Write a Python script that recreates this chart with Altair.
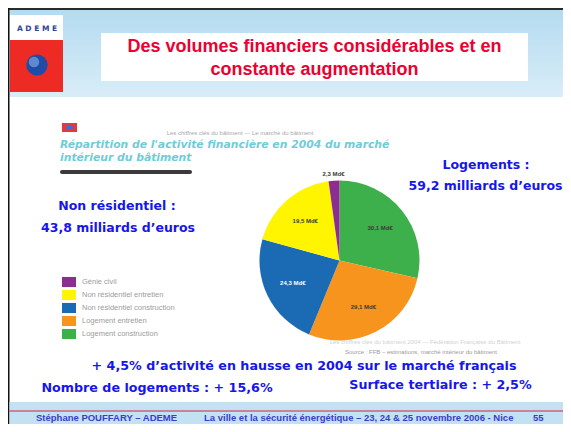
import altair as alt
import pandas as pd

# ---- data ----
categories = ["Logement construction", "Logement entretien", "Non résidentiel construction",
              "Non résidentiel entretien", "Génie civil"]
values = [30.1, 29.1, 24.3, 19.5, 2.3]
labels = ["30,1 Md€", "29,1 Md€", "24,3 Md€", "19,5 Md€", "2,3 Md€"]
legend_order = ["Génie civil", "Non résidentiel entretien", "Non résidentiel construction",
                "Logement entretien", "Logement construction"]
legend_colors = ["#8b2d91", "#fff500", "#1a6ab4", "#f7941d", "#3db04b"]

pie_df = pd.DataFrame({"cat": categories, "value": values, "label": labels,
                       "order": list(range(len(categories)))})

one = pd.DataFrame({"_": [0]})
W, H = 555, 416


def rect(x1, x2, y1, y2, **kw):
    return alt.Chart(one).mark_rect(**kw).encode(
        x=alt.value(x1), x2=alt.value(x2), y=alt.value(y1), y2=alt.value(y2))


def text(t, x, y, **kw):
    kw.setdefault("align", "center")
    kw.setdefault("baseline", "middle")
    return alt.Chart(one).mark_text(text=t, **kw).encode(x=alt.value(x), y=alt.value(y))


BLUE = "#1616ec"
FOOT = "#3c3cc8"
layers = []

# slide frame
layers.append(rect(0, W, 0, H, color="white"))
layers.append(rect(1.5, W, 2, 89, fill=alt.LinearGradient(
    gradient="linear", x1=0, x2=0, y1=0, y2=1,
    stops=[alt.GradientStop(color="#b4dbf0", offset=0),
           alt.GradientStop(color="#d9edf8", offset=1)])))
layers.append(rect(0, W, 0, 2, color="#2a2a2a"))
layers.append(rect(0, 1.5, 0, H, color="#111111"))
layers.append(rect(1.5, W, 394, H, color="#c2e2f4"))
layers.append(rect(1.5, W, 402.5, 403.5, color="#d0223c"))

# ADEME logo
layers.append(rect(2, 55, 7, 32, color="white"))
layers.append(rect(2, 55, 32, 84, color="#ee2a24"))
layers.append(text("A D E M E", 29, 20.5, font="DejaVu Sans", fontSize=7.5, fontWeight="bold",
                   color="#2b4494"))
layers.append(alt.Chart(one).mark_circle(size=450, color="#1f4ca6", opacity=1).encode(
    x=alt.value(29), y=alt.value(57)))
layers.append(alt.Chart(one).mark_circle(size=110, color="#7aa3e0", opacity=0.7).encode(
    x=alt.value(26), y=alt.value(54)))

# title box
layers.append(rect(93, 520, 25, 73, color="white"))
for t, y in [("Des volumes financiers considérables et en", 38.5), ("constante augmentation", 61.5)]:
    layers.append(text(t, 306.5, y, font="Liberation Sans", fontSize=18, fontWeight="bold",
                       color="#ec0032"))

# embedded (blurred) source chart header
layers.append(rect(54, 69, 115, 124, color="#e23a3a"))
layers.append(rect(58, 65, 117, 122, color="#4a6ac8"))
layers.append(text("Les chiffres clés du bâtiment — Le marché du bâtiment", 232, 124.5,
                   font="Liberation Sans", fontSize=6, color="#a8a8a8"))
for t, y in [("Répartition de l'activité financière en 2004 du marché", 137),
             ("intérieur du bâtiment", 149.5)]:
    layers.append(text(t, 52, y, font="DejaVu Sans", fontSize=10.8, fontWeight="bold",
                       fontStyle="italic", color="#55c4d2", align="left", opacity=0.85))
layers.append(rect(52, 184, 162, 166, color="#3a3a3a", cornerRadius=2))

# side annotations
for t, x, y in [("Logements :", 478, 157), ("59,2 milliards d’euros", 477.5, 178),
                ("Non résidentiel :", 109, 198), ("43,8 milliards d’euros", 110, 220)]:
    layers.append(text(t, x, y, font="DejaVu Sans", fontSize=12.5, fontWeight="bold", color=BLUE))

# pie
CX, CY = 331.5, 252.5
theta = alt.Theta("value:Q", stack=True)
pie = alt.Chart(pie_df).mark_arc(outerRadius=80).encode(
    theta=theta,
    order=alt.Order("order:Q"),
    color=alt.Color("cat:N", scale=alt.Scale(domain=legend_order, range=legend_colors),
                    legend=alt.Legend(orient="none", legendX=54, legendY=267, title=None,
                                      symbolType="M-1,-0.72L1,-0.72L1,0.72L-1,0.72Z",
                                      symbolSize=196, symbolStrokeWidth=0, symbolOpacity=1,
                                      labelFont="Liberation Sans", labelFontSize=7.5,
                                      labelColor="#9c9c9c", rowPadding=0, labelOffset=6)),
    x=alt.value(CX), y=alt.value(CY),
)
layers.append(pie)
inner = alt.Chart(pie_df).transform_calculate(
    inner="datum.cat == 'Génie civil' ? '' : datum.label"
).mark_text(radius=52, font="Liberation Sans", fontSize=6, fontWeight="bold").encode(
    theta=theta, order=alt.Order("order:Q"), text="inner:N",
    color=alt.condition("datum.cat == 'Non résidentiel construction'",
                        alt.value("white"), alt.value("#3a3a3a")),
    x=alt.value(CX), y=alt.value(CY),
)
outer = alt.Chart(pie_df).transform_calculate(
    outer="datum.cat == 'Génie civil' ? datum.label : ''"
).mark_text(radius=87, font="Liberation Sans", fontSize=6, fontWeight="bold", color="#3a3a3a").encode(
    theta=theta, order=alt.Order("order:Q"), text="outer:N",
    x=alt.value(CX), y=alt.value(CY),
)
layers += [inner, outer]

# source under pie
layers.append(text("Les chiffres clés du bâtiment 2004 — Fédération Française du Bâtiment", 417, 334,
                   font="Liberation Sans", fontSize=6, color="#d2d2d2"))
layers.append(text("Source : FFB – estimations, marché intérieur du bâtiment", 413, 344,
                   font="Liberation Sans", fontSize=6, color="#9a9a9a"))

# bottom annotations
for t, x, y in [("+ 4,5% d’activité en hausse en 2004 sur le marché français", 296, 358),
                ("Nombre de logements : + 15,6%", 149, 380),
                ("Surface tertiaire : + 2,5%", 432.5, 377)]:
    layers.append(text(t, x, y, font="DejaVu Sans", fontSize=12.7, fontWeight="bold", color=BLUE))

# footer
for t, x in [("Stéphane POUFFARY – ADEME", 28),
             ("La ville et la sécurité énergétique – 23, 24 & 25 novembre 2006 - Nice", 196),
             ("55", 525)]:
    layers.append(text(t, x, 410, font="Liberation Sans", fontSize=9.5, fontWeight="bold",
                       color=FOOT, align="left"))

chart = alt.layer(*layers).properties(
    width=W, height=H, padding=0,
    autosize=alt.AutoSizeParams(type="fit", contains="padding"),
).configure_view(stroke=None)

chart.save("out.html", embed_options={"renderer": "svg", "actions": False})
